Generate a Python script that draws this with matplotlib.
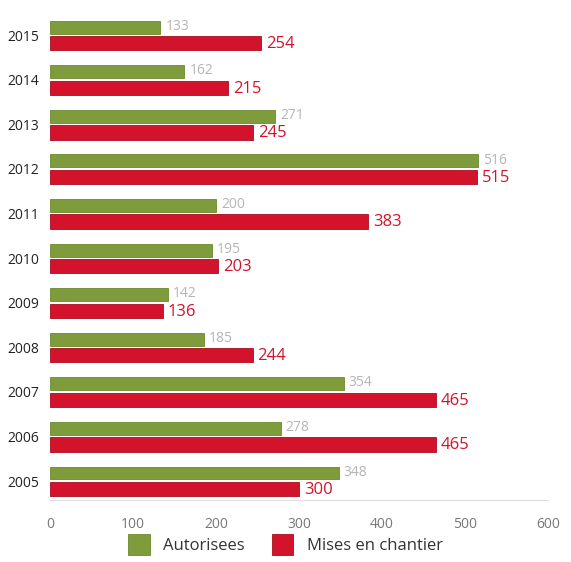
import matplotlib
matplotlib.use("Agg")
import matplotlib.pyplot as plt
import numpy as np

plt.rcParams['font.family'] = ['Open Sans', 'DejaVu Sans']

# donnees
annees = ['2005', '2006', '2007', '2008', '2009', '2010', '2011', '2012', '2013', '2014', '2015']
autorisees = [348, 278, 354, 185, 142, 195, 200, 516, 271, 162, 133]
chantier = [300, 465, 465, 244, 136, 203, 383, 515, 245, 215, 254]

vert = '#7f9c3c'
rouge = '#d3132b'

fig = plt.figure(figsize=(5.71, 5.62), dpi=100)
ax = fig.add_axes([0.0876, 0.11, 0.872, 0.863])

y = np.arange(len(annees))
ax.barh(y + 0.18, autorisees, height=0.29, color=vert, edgecolor='#6b8a2c', linewidth=0.6, label='Autorisees')
ax.barh(y - 0.18, chantier, height=0.32, color=rouge, edgecolor='#a80d20', linewidth=0.6, label='Mises en chantier')

# etiquettes de valeurs
for yi, v in zip(y, autorisees):
    ax.text(v + 6, yi + 0.2, str(v), va='center', ha='left', fontsize=10, color='#b5b5b5')
for yi, v in zip(y, chantier):
    ax.text(v + 6, yi - 0.2, str(v), va='center', ha='left', fontsize=12, color=rouge)

ax.set_xlim(0, 600)
ax.set_ylim(-0.43, 10.45)
ax.set_yticks(y)
ax.set_yticklabels(annees, fontsize=10, color='#222222')
ax.set_xticks([0, 100, 200, 300, 400, 500, 600])
ax.tick_params(axis='x', labelsize=10, labelcolor='#777777', length=0, pad=12)
ax.tick_params(axis='y', length=0, pad=8)

for s in ['top', 'right', 'left']:
    ax.spines[s].set_visible(False)
ax.spines['bottom'].set_color('#dddddd')

fig.legend(loc='lower center', ncol=2, frameon=False, fontsize=12,
           handlelength=1.3, handleheight=1.6, columnspacing=1.6,
           bbox_to_anchor=(0.5, -0.015), labelcolor='#333333')

plt.savefig('out.png', dpi=100)
